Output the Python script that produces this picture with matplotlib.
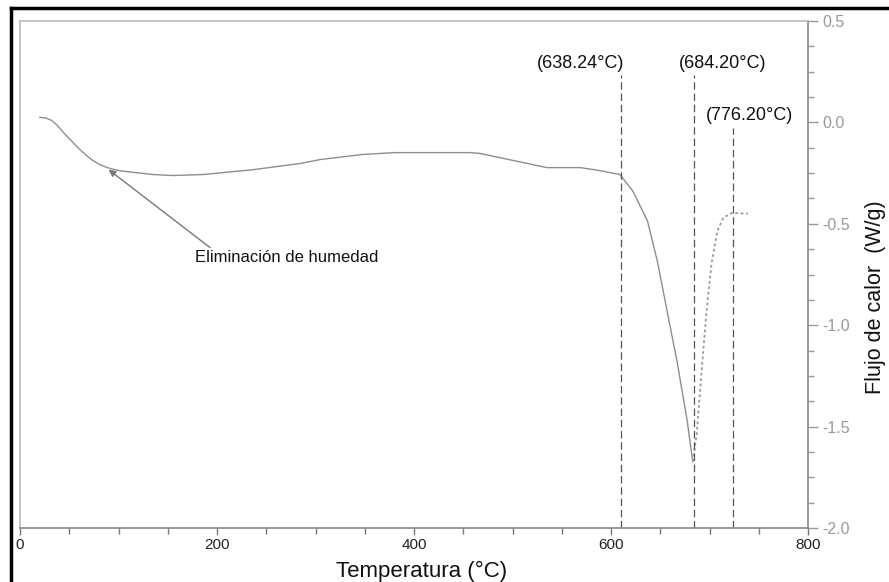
import matplotlib
matplotlib.use("Agg")
import matplotlib.pyplot as plt
import matplotlib.ticker as mticker
from matplotlib.lines import Line2D

plt.rcParams["font.family"] = ["Liberation Sans", "DejaVu Sans"]

# -----------------------------
# Data
# -----------------------------
temp = [20, 26, 32, 38, 44, 52, 61, 68, 74, 81, 88, 95, 101, 118, 135, 155, 186,
        237, 284, 305, 348, 381, 457, 467, 501, 535, 569, 589, 609, 622, 637,
        647, 657, 667, 677, 683]
flow = [0.025, 0.022, 0.010, -0.015, -0.050, -0.090, -0.135, -0.165, -0.188,
        -0.208, -0.222, -0.232, -0.238, -0.248, -0.257, -0.262, -0.257, -0.233,
        -0.203, -0.183, -0.158, -0.149, -0.149, -0.153, -0.188, -0.223, -0.223,
        -0.238, -0.257, -0.337, -0.485, -0.683, -0.931, -1.178, -1.460, -1.673]

# recovery branch after the peak (drawn dotted in the original)
temp_up = [683, 687, 692, 697, 702, 708, 714, 723, 739]
flow_up = [-1.673, -1.540, -1.228, -0.931, -0.698, -0.535, -0.470, -0.446, -0.450]

# marker lines: x position, top of line, label, label position
mark_x = [610, 684, 723.5]
mark_top = [0.233, 0.233, -0.03]
mark_labels = ["(638.24°C)", "(684.20°C)", "(776.20°C)"]
label_x = [569, 713, 741]
label_y = [0.292, 0.292, 0.035]

# -----------------------------
# Figure
# -----------------------------
fig = plt.figure(figsize=(8.89, 5.82), dpi=100)
ax = fig.add_axes([20 / 889, 1 - 528 / 582, (808 - 20) / 889, (528 - 21) / 582])

ax.plot(temp, flow, color="#8e8e8e", lw=1.0)
ax.plot(temp_up, flow_up, color="#9a9a9a", lw=1.3, ls=(0, (1.5, 1.5)))

for x, top, txt, lx, ly in zip(mark_x, mark_top, mark_labels, label_x, label_y):
    ax.plot([x, x], [-2.0, top], color="#555555", lw=0.9, ls=(0, (6, 3)))
    ax.text(lx, ly, txt, fontsize=13, color="#111111", ha="center", va="center")

ax.annotate("Eliminación de humedad", xy=(90, -0.233), xytext=(178, -0.668),
            fontsize=12, color="#111111", ha="left", va="center",
            arrowprops=dict(arrowstyle="-|>", color="#777777", lw=1.0,
                            mutation_scale=10, shrinkA=0, shrinkB=0,
                            relpos=(0.1, 1.0)))

ax.set_xlim(0, 800)
ax.set_ylim(-2.0, 0.5)

ax.xaxis.set_major_locator(mticker.MultipleLocator(200))
ax.xaxis.set_minor_locator(mticker.MultipleLocator(50))
ax.yaxis.set_major_locator(mticker.MultipleLocator(0.5))
ax.yaxis.set_minor_locator(mticker.MultipleLocator(0.125))
ax.yaxis.set_major_formatter(mticker.FormatStrFormatter("%.1f"))

ax.yaxis.tick_right()
ax.yaxis.set_label_position("right")
ax.tick_params(axis="x", which="both", direction="out", color="#777777",
               labelcolor="#222222", labelsize=11, pad=2)
ax.tick_params(axis="x", which="major", length=5, width=1)
ax.tick_params(axis="x", which="minor", length=4, width=1)
ax.tick_params(axis="y", which="both", direction="out", color="#999999",
               labelcolor="#999999", labelsize=11.5, pad=3)
ax.tick_params(axis="y", which="major", length=7, width=1)
ax.tick_params(axis="y", which="minor", length=4, width=1)

for side in ["top", "left"]:
    ax.spines[side].set_color("#bbbbbb")
    ax.spines[side].set_linewidth(1.2)
for side in ["bottom", "right"]:
    ax.spines[side].set_color("#888888")
    ax.spines[side].set_linewidth(1.2)

ax.set_xlabel("Temperatura (°C)", fontsize=16, color="#111111", labelpad=0)
ax.xaxis.set_label_coords(0.51, -0.065)
ax.set_ylabel("Flujo de calor  (W/g)", fontsize=15.5, color="#111111")
ax.yaxis.set_label_coords(1.0725, 0.456)

# thick black frame around the picture (left and top edges visible)
fig.add_artist(Line2D([11 / 889, 11 / 889], [0, 1 - 8 / 582], color="black", lw=2.5))
fig.add_artist(Line2D([11 / 889, 1], [1 - 8 / 582, 1 - 8 / 582], color="black", lw=2.5))

fig.savefig("out.png", dpi=100)
